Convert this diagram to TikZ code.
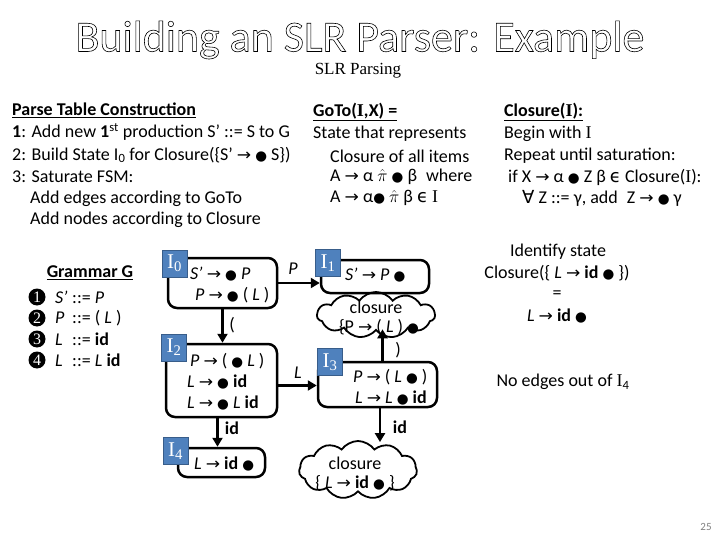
\documentclass[tikz,border=0pt]{standalone}
\usepackage{fontspec}
\usepackage{graphicx}
\usetikzlibrary{arrows.meta,shapes.symbols}
\setmainfont{Carlito}
\newfontfamily\dv{DejaVu Sans}
\newfontfamily\tms{Liberation Serif}
\newcommand\ar{{\dv\scalebox{0.95}[0.9]{→}}}
\newcommand\bul{{\dv\scalebox{0.75}{●}}}
\newcommand\It{{\tms I}}
\newcommand\pihat{\smash{$\hat{\pi}$}}
\definecolor{lblblue}{HTML}{4F81BD}
\definecolor{lblborder}{HTML}{385D8A}
\begin{document}
\begin{tikzpicture}[x=1pt,y=-1pt,
  txt/.style={font=\fontsize{18}{20}\selectfont, inner sep=0pt, anchor=west},
  ctxt/.style={font=\fontsize{18}{20}\selectfont, inner sep=0pt},
  statebox/.style={draw, line width=2.5pt, rounded corners=9pt, inner sep=0pt},
  lbl/.style={fill=lblblue, draw=lblborder, line width=0.8pt, minimum width=25pt, minimum height=27pt, text=white, font=\tms\fontsize{21}{21}\selectfont, inner sep=0pt},
  arrow/.style={line width=2.5pt, -{Triangle[length=9pt,width=10pt]}},
  cloudbox/.style={cloud, draw, line width=1.8pt, cloud puffs=11, cloud puff arc=110, inner sep=0pt},
  numc/.style={circle, fill=black, minimum size=17pt, inner sep=0pt, text=white, font=\tms\fontsize{16}{16}\selectfont}
]
\useasboundingbox (0,0) rectangle (720,540);
\fill[white] (0,0) rectangle (720,540);

% Title
\node (title) at (360,40) {\fontsize{44}{48}\selectfont\special{pdf:literal direct 1 Tr 0.6 w}Building an SLR Parser: Example\special{pdf:literal direct 0 Tr}};
\node (subtitle) at (358,71) {\tms\fontsize{17}{19}\selectfont SLR Parsing};

% Left block
\node[txt] (l1) at (12,110) {\textbf{\underline{Parse Table Construction}}};
\node[txt] (l2) at (12,132) {\textbf{1}: Add new \textbf{1}\textsuperscript{st} production S’ ::= S to G};
\node[txt] (l3) at (12,155) {2: Build State I\textsubscript{0} for Closure(\{S’ \ar{} \bul{} S\})};
\node[txt] (l4) at (12,177) {3: Saturate FSM:};
\node[txt] (l5) at (30,199) {Add edges according to GoTo};
\node[txt] (l6) at (30,220) {Add nodes according to Closure};

% GoTo block
\node[txt] (g1) at (313,112) {\textbf{\underline{GoTo(\It,X) =}}};
\node[txt] (g2) at (313,134) {State that represents};
\node[txt] (g3) at (330,156) {Closure of all items};
\node[txt] (g4) at (330,177) {A \ar{} α \pihat{} \bul{} β\enspace where};
\node[txt] (g5) at (330,198) {A \ar{} α\bul{} \pihat{} β {\dv ϵ} \It};

% Closure block
\node[txt] (c1t) at (504,112) {\textbf{\underline{Closure(\It):}}};
\node[txt] (c2t) at (504,134) {Begin with \It};
\node[txt] (c3t) at (504,156) {Repeat until saturation:};
\node[txt] (c4t) at (508,177) {if X \ar{} α \bul{} Z β {\dv ϵ} Closure(\It):};
\node[txt] (c5t) at (522,198) {{\dv ∀} Z ::= γ, add\enspace Z \ar{} \bul{} γ};

% Grammar
\node[ctxt] (gh) at (90,273) {\textbf{\underline{Grammar G}}};
\node[numc] (n1) at (37,297) {1};
\node[numc] (n2) at (37,318) {2};
\node[numc] (n3) at (37,339) {3};
\node[numc] (n4) at (37,360) {4};
\node[txt] (r1) at (55,297) {\makebox[17pt][l]{\itshape S’}::= \textit{P}};
\node[txt] (r2) at (55,318) {\makebox[17pt][l]{\itshape P}::= ( \textit{L} )};
\node[txt] (r3) at (55,339) {\makebox[17pt][l]{\itshape L}::= \textbf{id}};
\node[txt] (r4) at (55,360) {\makebox[17pt][l]{\itshape L}::= \textit{L} \textbf{id}};

% State boxes
\node[statebox, minimum width=109pt, minimum height=50pt] (b0) at (222.5,283) {};
\node[statebox, minimum width=108pt, minimum height=33pt] (b1) at (375,276.5) {};
\node[statebox, minimum width=111pt, minimum height=73pt] (b2) at (221.5,380.5) {};
\node[statebox, minimum width=119pt, minimum height=45pt] (b3) at (377.5,384.5) {};
\node[statebox, minimum width=87pt, minimum height=29pt] (b4) at (221.5,462.5) {};

% Clouds
\node[cloudbox, minimum width=118pt, minimum height=46pt] (cl1) at (376,315) {};
\node[cloudbox, minimum width=118pt, minimum height=58pt] (cl2) at (358,470) {};

% Labels
\node[lbl] (i0) at (174.5,263.5) {I\textsubscript{0}};
\node[lbl] (i1) at (328,263) {I\textsubscript{1}};
\node[lbl] (i2) at (174,347.5) {I\textsubscript{2}};
\node[lbl] (i3) at (330,362) {I\textsubscript{3}};
\node[lbl] (i4) at (175.5,451) {I\textsubscript{4}};

% State contents
\node[txt] (s01) at (190,274) {\textit{S’} \ar{} \bul{} \textit{P}};
\node[txt] (s02) at (195,295) {\textit{P} \ar{} \bul{} ( \textit{L} )};
\node[txt] (s11) at (345,275) {\textit{S’} \ar{} \textit{P} \bul};
\node[txt] (s21) at (190,361) {\textit{P} \ar{} ( \bul{} \textit{L} )};
\node[txt] (s22) at (187,382) {\textit{L} \ar{} \bul{} \textbf{id}};
\node[txt] (s23) at (187,403) {\textit{L} \ar{} \bul{} \textit{L} \textbf{id}};
\node[txt] (s31) at (353,377) {\textit{P} \ar{} ( \textit{L} \bul{} )};
\node[txt] (s32) at (355,398) {\textit{L} \ar{} \textit{L} \bul{} \textbf{id}};
\node[txt] (s41) at (194,464) {\textit{L} \ar{} \textbf{id} \bul};

% Cloud texts
\node[ctxt] (ct11) at (376,307) {closure};
\node[ctxt] (ct12) at (379,327) {\{P \ar{} ( \textit{L} ) \bul};
\node[ctxt] (ct21) at (355,463) {closure};
\node[ctxt] (ct22) at (355,483) {\{ \textit{L} \ar{} \textbf{id} \bul{} \}};

% Connectors
\draw[arrow] (b0.east) -- (b0.east -| b1.west);
\draw[arrow] (b0.south) -- (b0.south |- b2.north);
\draw[arrow] ([yshift=-5pt]b2.east) -- ([yshift=-5pt]b2.east -| b3.west);
\draw[arrow] ([xshift=-4pt]b2.south) -- ([xshift=-4pt]b2.south |- b4.north);
\draw[arrow] ([xshift=5pt]b3.north) -- ([xshift=5pt,yshift=2pt]b3.north |- cl1.south);
\draw[arrow] ([xshift=2.5pt]b3.south) -- ([xshift=2.5pt,yshift=-2pt]b3.south |- cl2.north);

% Connector labels
\node[ctxt] (lp) at (293,269) {\textit{P}};
\node[ctxt] (lo) at (232,325) {(};
\node[ctxt] (ll) at (298,373) {\textit{L}};
\node[ctxt] (lc) at (398,350) {)};
\node[ctxt] (lid1) at (232,428) {\textbf{id}};
\node[ctxt] (lid2) at (400,427) {\textbf{id}};

% Right text
\node[ctxt] (rt1) at (558,252) {Identify state};
\node[ctxt] (rt2) at (557,273) {Closure(\{ \textit{L} \ar{} \textbf{id} \bul{} \})};
\node[ctxt] (rt3) at (557,295) {=};
\node[ctxt] (rt4) at (557,316) {\textit{L} \ar{} \textbf{id} \bul};
\node[ctxt] (rt5) at (563,382) {No edges out of \It\textsubscript{4}};

% Page number
\node[text=gray, font=\fontsize{11}{12}\selectfont] (pg) at (706,527) {25};
\end{tikzpicture}
\end{document}
